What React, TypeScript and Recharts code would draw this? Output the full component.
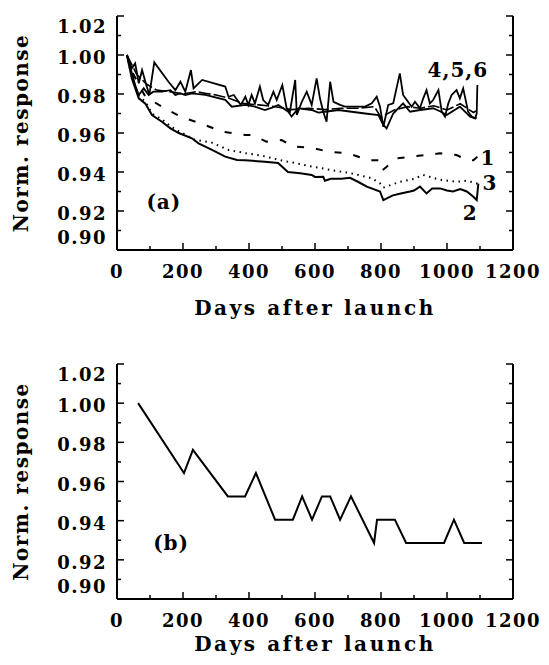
import { LineChart, Line, XAxis, YAxis, ReferenceDot } from "recharts";

const FONT = "'DejaVu Serif', serif";

// axis ticks
const X_TICKS = [0, 100, 200, 300, 400, 500, 600, 700, 800, 900, 1000, 1100, 1200];
const X_LABELS = [0, 200, 400, 600, 800, 1000, 1200];
const Y_TICKS = [0.9, 0.91, 0.92, 0.93, 0.94, 0.95, 0.96, 0.97, 0.98, 0.99, 1.0, 1.01, 1.02];
const Y_LABELS = [0.9, 0.92, 0.94, 0.96, 0.98, 1.0, 1.02];
const Y_MIN = 0.9;
const Y_MAX = 1.02;

// (a) channel 1 – dashed
const DAYS_1 = [30, 50, 86, 136, 192, 252, 318, 389, 408, 453, 499, 534, 590, 640, 701, 762, 797, 805, 847, 888, 938, 979, 1029, 1060, 1080, 1092];
const RESP_1 = [1.0, 0.99, 0.9786, 0.9735, 0.9684, 0.965, 0.9607, 0.959, 0.959, 0.9555, 0.9564, 0.953, 0.9525, 0.9504, 0.9496, 0.946, 0.946, 0.941, 0.947, 0.9478, 0.9487, 0.9496, 0.9487, 0.9462, 0.946, 0.9478];

// (a) channel 2 – solid, lowest
const DAYS_2 = [30, 45, 66, 86, 106, 136, 162, 187, 227, 247, 288, 328, 364, 388, 448, 488, 518, 555, 590, 600, 625, 630, 648, 680, 706, 730, 757, 797, 807, 836, 860, 888, 900, 918, 938, 955, 979, 1000, 1018, 1040, 1060, 1080, 1090, 1095];
const RESP_2 = [1.0, 0.988, 0.9778, 0.975, 0.9692, 0.9658, 0.9624, 0.96, 0.9573, 0.9547, 0.9513, 0.9479, 0.9462, 0.946, 0.9453, 0.9446, 0.94, 0.9394, 0.9385, 0.9375, 0.9376, 0.9355, 0.9365, 0.9365, 0.937, 0.935, 0.9325, 0.93, 0.9256, 0.928, 0.929, 0.93, 0.9305, 0.9325, 0.929, 0.9315, 0.9316, 0.9305, 0.93, 0.9312, 0.93, 0.9273, 0.9256, 0.934];

// (a) channel 3 – dotted
const DAYS_3 = [30, 45, 66, 86, 106, 136, 162, 187, 236, 288, 338, 388, 438, 497, 539, 590, 650, 711, 772, 797, 807, 858, 900, 928, 979, 1029, 1060, 1090, 1095];
const RESP_3 = [1.0, 0.989, 0.979, 0.976, 0.97, 0.967, 0.9635, 0.961, 0.9565, 0.955, 0.9513, 0.9497, 0.9484, 0.946, 0.9446, 0.9428, 0.941, 0.9393, 0.9368, 0.9342, 0.932, 0.935, 0.9365, 0.9385, 0.936, 0.935, 0.9355, 0.9342, 0.9335];

// (a) channels 4, 5, 6 – upper cluster
const DAYS_4 = [30, 45, 55, 66, 76, 86, 98, 113, 156, 177, 192, 207, 224, 232, 258, 328, 338, 354, 375, 389, 398, 408, 418, 433, 443, 458, 474, 484, 501, 514, 524, 540, 545, 560, 575, 590, 605, 615, 625, 635, 646, 656, 676, 691, 752, 772, 787, 797, 807, 822, 837, 857, 867, 878, 893, 903, 918, 928, 938, 948, 958, 974, 984, 994, 1004, 1014, 1029, 1039, 1049, 1064, 1075, 1085, 1090, 1092];
const RESP_4 = [1.0, 0.9932, 0.9957, 0.9855, 0.9923, 0.9863, 0.9795, 0.9962, 0.9863, 0.982, 0.9863, 0.9812, 0.9923, 0.9829, 0.9872, 0.9838, 0.9786, 0.9795, 0.9744, 0.9786, 0.9744, 0.9795, 0.9752, 0.9838, 0.9769, 0.9744, 0.9812, 0.9769, 0.9846, 0.9727, 0.9709, 0.9872, 0.9692, 0.976, 0.9812, 0.9744, 0.988, 0.9778, 0.9709, 0.9658, 0.9863, 0.976, 0.9744, 0.9735, 0.9735, 0.9752, 0.9786, 0.9735, 0.9632, 0.9744, 0.9752, 0.9906, 0.9795, 0.9769, 0.9735, 0.976, 0.9727, 0.9778, 0.982, 0.9752, 0.9769, 0.982, 0.9709, 0.9684, 0.9752, 0.9795, 0.982, 0.9778, 0.9829, 0.9709, 0.9684, 0.9675, 0.97, 0.9846];

const DAYS_5 = [30, 55, 66, 81, 96, 110, 136, 162, 177, 192, 207, 227, 268, 328, 348, 389, 418, 448, 470, 489, 519, 529, 550, 590, 610, 630, 671, 711, 752, 792, 807, 817, 837, 867, 888, 918, 958, 980, 999, 1039, 1070, 1085, 1090];
const RESP_5 = [1.0, 0.9846, 0.9795, 0.9829, 0.9795, 0.9812, 0.9812, 0.982, 0.9795, 0.9803, 0.9795, 0.9803, 0.9795, 0.977, 0.9735, 0.9744, 0.9735, 0.9718, 0.973, 0.9744, 0.9709, 0.9684, 0.9727, 0.9718, 0.9705, 0.9709, 0.9718, 0.9709, 0.97, 0.9692, 0.9641, 0.9624, 0.97, 0.9752, 0.9709, 0.9718, 0.9727, 0.971, 0.9692, 0.9735, 0.9684, 0.9675, 0.968];

const DAYS_6 = [30, 60, 90, 120, 160, 200, 240, 270, 300, 340, 380, 430, 480, 530, 580, 630, 680, 730, 780, 800, 840, 880, 920, 960, 1000, 1040, 1080, 1090];
const RESP_6 = [1.0, 0.99, 0.985, 0.982, 0.9812, 0.98, 0.9812, 0.9803, 0.9795, 0.9778, 0.9752, 0.9744, 0.9735, 0.972, 0.9727, 0.972, 0.9727, 0.9727, 0.9735, 0.968, 0.9718, 0.9735, 0.9727, 0.974, 0.9718, 0.975, 0.9705, 0.9715];

// (b) step response
const DAYS_B = [64, 203, 230, 336, 388, 421, 479, 533, 561, 591, 621, 646, 676, 709, 779, 788, 842, 876, 991, 1021, 1052, 1106];
const RESP_B = [1.0, 0.9643, 0.9762, 0.9524, 0.9524, 0.9643, 0.9405, 0.9405, 0.9524, 0.9405, 0.9524, 0.9524, 0.9405, 0.9524, 0.9286, 0.9405, 0.9405, 0.9286, 0.9286, 0.9405, 0.9286, 0.9286];

const zip = (days: number[], resp: number[]) => days.map((d, i) => ({ d, v: resp[i] }));

const near = (list: number[], v: number) => list.some((t) => Math.abs(t - v) < 1e-6);

const textStyle = { fontFamily: FONT, fontWeight: 700, fill: "#000" };

function LeftTick({ x, y, payload }: any) {
  const v = payload.value;
  const major = near(Y_LABELS, v);
  let dy = 9;
  if (v >= Y_MAX - 1e-6) dy = 17;
  else if (v <= Y_MIN + 1e-6) dy = -6;
  return (
    <g>
      <line x1={x} x2={x + (major ? 7 : 4)} y1={y} y2={y} stroke="#000" strokeWidth={1.5} />
      {major && (
        <text x={x - 10} y={y + dy} textAnchor="end" fontSize={18} letterSpacing={1.5} style={textStyle}>
          {v.toFixed(2)}
        </text>
      )}
    </g>
  );
}

function RightTick({ x, y, payload }: any) {
  const major = near(Y_LABELS, payload.value);
  return <line x1={x} x2={x - (major ? 7 : 4)} y1={y} y2={y} stroke="#000" strokeWidth={1.5} />;
}

function BottomTick({ x, y, payload }: any) {
  const v = payload.value;
  const major = near(X_LABELS, v);
  return (
    <g>
      <line x1={x} x2={x} y1={y} y2={y - (major ? 7 : 4)} stroke="#000" strokeWidth={1.5} />
      {major && (
        <text x={x} y={y + 28} textAnchor="middle" fontSize={18} letterSpacing={1.5} style={textStyle}>
          {v}
        </text>
      )}
    </g>
  );
}

function TopTick({ x, y, payload }: any) {
  const major = near(X_LABELS, payload.value);
  return <line x1={x} x2={x} y1={y} y2={y + (major ? 7 : 4)} stroke="#000" strokeWidth={1.5} />;
}

const frame = { stroke: "#000", strokeWidth: 2 };

const note = (value: string) => ({
  value,
  position: "center" as const,
  fontSize: 20,
  style: { ...textStyle, letterSpacing: 1 },
});

function Panel({
  height,
  top,
  xAxisHeight,
  xTitleOffset,
  children,
}: {
  height: number;
  top: number;
  xAxisHeight: number;
  xTitleOffset: number;
  children: any;
}) {
  return (
    <LineChart width={549} height={height} margin={{ top, right: 35, left: 0, bottom: 0 }}>
      <XAxis
        type="number"
        dataKey="d"
        domain={[0, 1200]}
        ticks={X_TICKS}
        interval={0}
        height={xAxisHeight}
        tickSize={0}
        tickMargin={0}
        tickLine={false}
        axisLine={frame}
        tick={BottomTick}
        allowDataOverflow
        label={{
          value: "Days after launch",
          position: "insideBottom",
          offset: xTitleOffset,
          fontSize: 20,
          style: { ...textStyle, letterSpacing: 2.6 },
        }}
      />
      <XAxis
        xAxisId="top"
        orientation="top"
        type="number"
        dataKey="d"
        domain={[0, 1200]}
        ticks={X_TICKS}
        interval={0}
        height={0}
        tickSize={0}
        tickMargin={0}
        tickLine={false}
        axisLine={frame}
        tick={TopTick}
        allowDataOverflow
      />
      <YAxis
        type="number"
        domain={[Y_MIN, Y_MAX]}
        ticks={Y_TICKS}
        interval={0}
        width={117}
        tickSize={0}
        tickMargin={0}
        tickLine={false}
        axisLine={frame}
        tick={LeftTick}
        allowDataOverflow
        label={{
          value: "Norm. response",
          angle: -90,
          position: "insideLeft",
          offset: 21,
          fontSize: 20,
          style: { ...textStyle, letterSpacing: 1.5, textAnchor: "middle" },
        }}
      />
      <YAxis
        yAxisId="right"
        orientation="right"
        type="number"
        domain={[Y_MIN, Y_MAX]}
        ticks={Y_TICKS}
        interval={0}
        width={1}
        tickSize={0}
        tickMargin={0}
        tickLine={false}
        axisLine={frame}
        tick={RightTick}
        allowDataOverflow
      />
      {children}
    </LineChart>
  );
}

export default function App() {
  const line = { type: "linear" as const, dataKey: "v", stroke: "#000", dot: false, isAnimationActive: false };
  return (
    <div style={{ position: "absolute", left: 0, top: 0, width: 549, height: 665, background: "#fff" }}>
      <Panel height={330} top={16} xAxisHeight={80} xTitleOffset={15}>
        <Line {...line} data={zip(DAYS_6, RESP_6)} strokeWidth={1.6} strokeDasharray="12 3" />
        <Line {...line} data={zip(DAYS_5, RESP_5)} strokeWidth={1.8} />
        <Line {...line} data={zip(DAYS_4, RESP_4)} strokeWidth={1.8} />
        <Line {...line} data={zip(DAYS_1, RESP_1)} strokeWidth={2} strokeDasharray="7 12" />
        <Line {...line} data={zip(DAYS_3, RESP_3)} strokeWidth={2} strokeDasharray="1.5 4.5" />
        <Line {...line} data={zip(DAYS_2, RESP_2)} strokeWidth={2} />
        <ReferenceDot x={142} y={0.9246} r={0} fill="none" stroke="none" label={note("(a)")} />
        <ReferenceDot x={1033} y={0.9923} r={0} fill="none" stroke="none" label={note("4,5,6")} />
        <ReferenceDot x={1124} y={0.9472} r={0} fill="none" stroke="none" label={note("1")} />
        <ReferenceDot x={1130} y={0.9344} r={0} fill="none" stroke="none" label={note("3")} />
        <ReferenceDot x={1070} y={0.919} r={0} fill="none" stroke="none" label={note("2")} />
      </Panel>
      <div style={{ position: "absolute", left: 0, top: 330 }}>
        <Panel height={335} top={34} xAxisHeight={66} xTitleOffset={14}>
          <Line {...line} data={zip(DAYS_B, RESP_B)} strokeWidth={2} />
          <ReferenceDot x={164} y={0.9286} r={0} fill="none" stroke="none" label={note("(b)")} />
        </Panel>
      </div>
    </div>
  );
}
